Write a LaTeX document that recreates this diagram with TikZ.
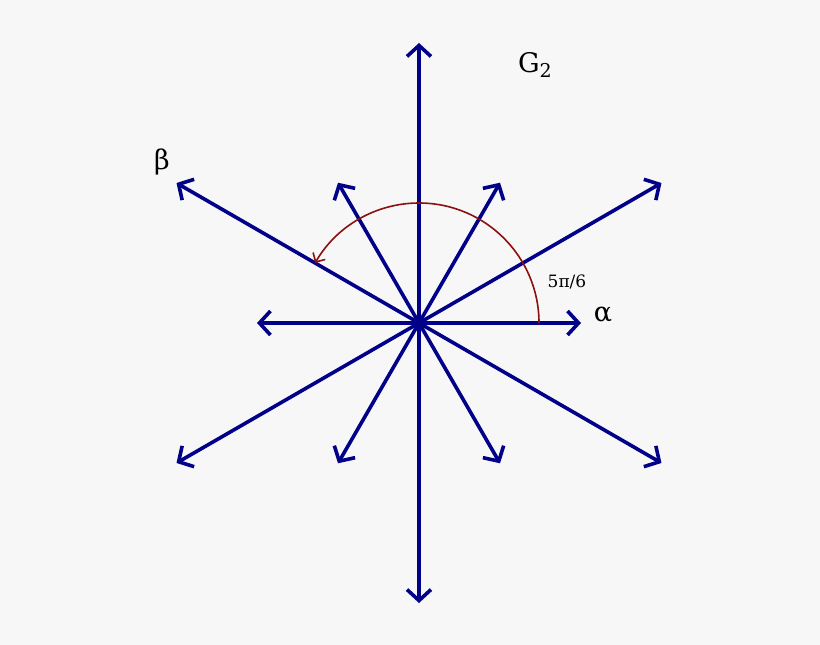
\documentclass[tikz,border=0pt]{standalone}
\usepackage{fontspec}
\setmainfont{DejaVu Serif}
\usetikzlibrary{arrows.meta,calc}
\definecolor{bg}{HTML}{F7F7F7}
\definecolor{root}{HTML}{000088}
\definecolor{arcc}{HTML}{8B1010}
\begin{document}
\begin{tikzpicture}[x=1pt,y=1pt,
  rootarrow/.style={draw=root,line width=3.6pt,-{Straight Barb[length=11pt,width=24pt,line width=3.6pt]}},
  lbl/.style={inner sep=0pt,font=\fontsize{27}{31}\selectfont}]
\fill[bg] (0,0) rectangle (820,-645);
\useasboundingbox (0,0) rectangle (820,-645);
\coordinate (c) at (419,-323);
\foreach \a in {0,60,...,300} {
  \coordinate (s\a) at ($(c)+(\a:162)$);
}
\foreach \a in {30,90,...,330} {
  \coordinate (l\a) at ($(c)+(\a:280)$);
}
\foreach \a in {0,60,...,300} { \draw[rootarrow] (c) -- (s\a); }
\foreach \a in {30,90,...,330} { \draw[rootarrow] (c) -- (l\a); }
\draw[arcc,line width=1.6pt,-{Straight Barb[length=7pt,width=14pt,line width=1.6pt]}] ($(c)+(120,0)$) arc[start angle=0,end angle=150,radius=120];
\node[lbl] (g2) at (535,-65) {G\raisebox{-0.3ex}{\fontsize{19}{22}\selectfont 2}};
\node[lbl] (beta) at (162,-162) {β};
\node[lbl] (alpha) at (603,-315) {α};
\node[lbl,font=\fontsize{17}{20}\selectfont] (ang) at (567,-282) {5π/6};
\end{tikzpicture}
\end{document}
